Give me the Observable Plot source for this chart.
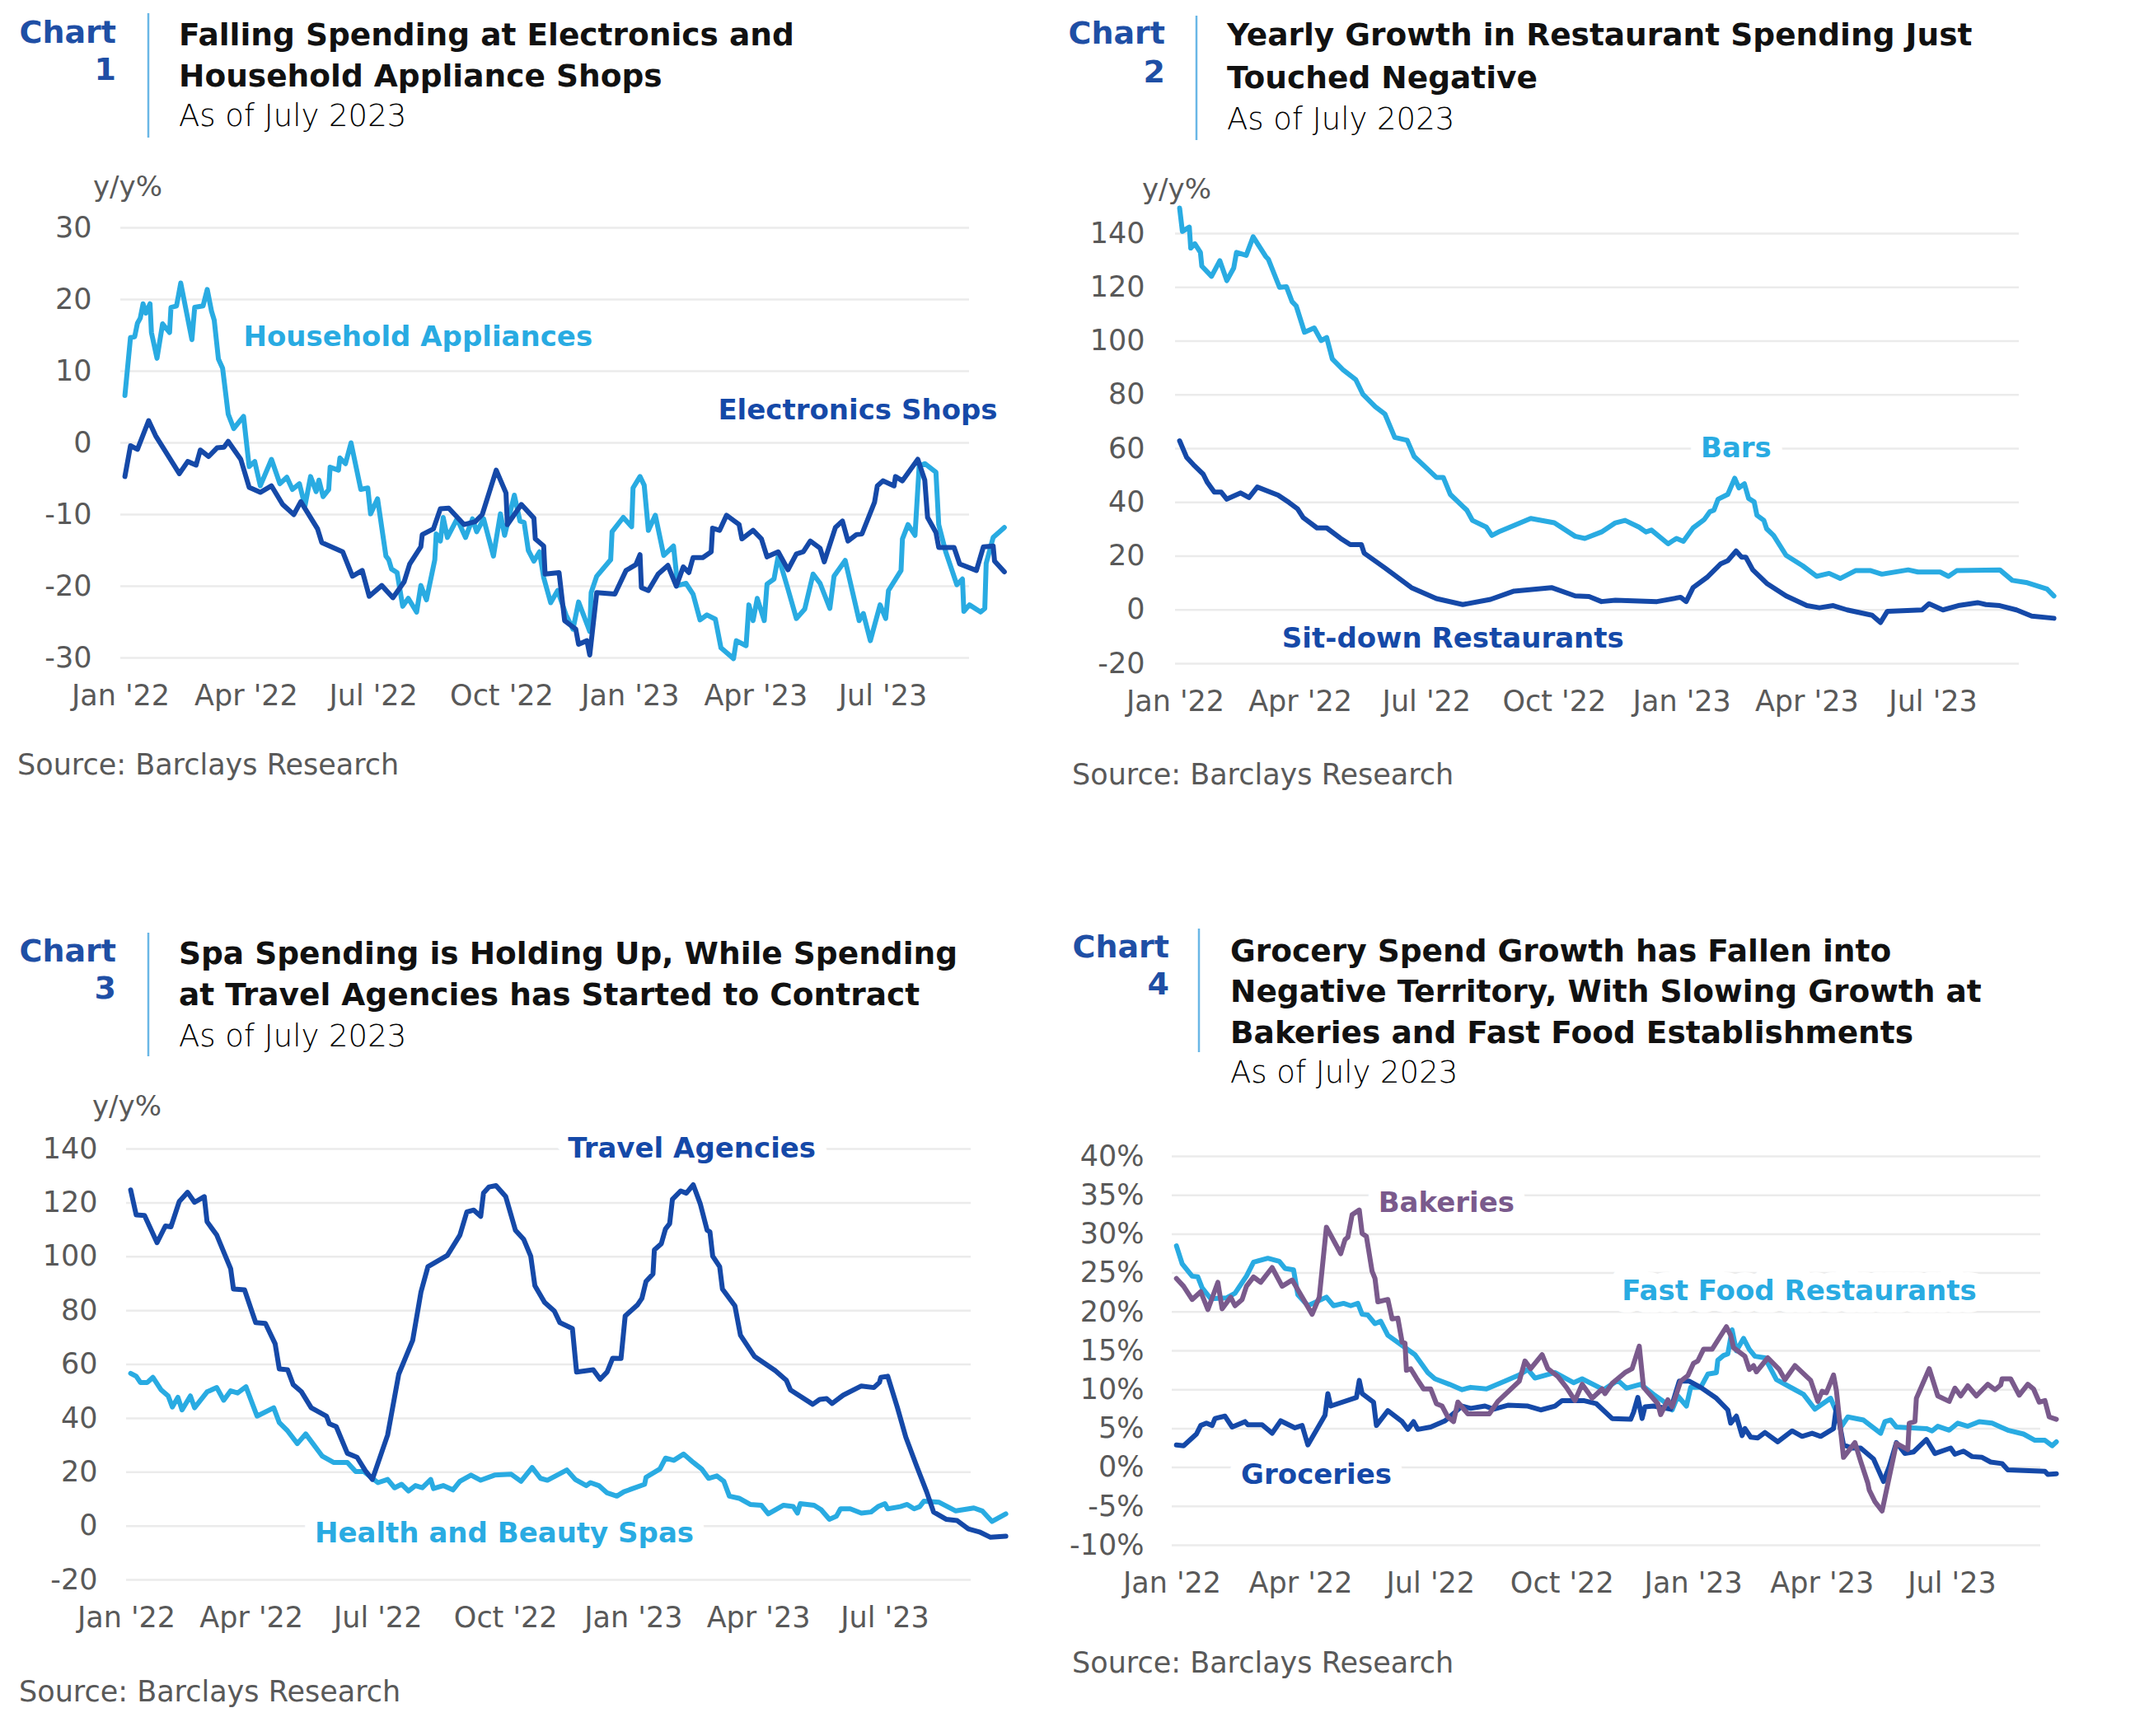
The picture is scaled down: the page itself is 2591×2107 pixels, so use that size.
<!DOCTYPE html>
<html><head><meta charset="utf-8">
<script src="https://cdn.jsdelivr.net/npm/d3@7"></script>
<script src="https://cdn.jsdelivr.net/npm/@observablehq/plot@0.6"></script>
<style>
html,body{margin:0;padding:0;background:#fff;}
#page{position:relative;width:2591px;height:2107px;overflow:hidden;background:#fff;}
</style></head><body><div id="page"></div>
<script>
// ---------- DATA (day offset from 2022-01-01, y/y %) ----------
const tickDates = ["2022-01-01","2022-04-01","2022-07-01","2022-10-01","2023-01-01","2023-04-01","2023-07-01"];
const tickLabels = ["Jan '22","Apr '22","Jul '22","Oct '22","Jan '23","Apr '23","Jul '23"];
const ticksC1 = [-30,-20,-10,0,10,20,30];
const ticksC23 = [-20,0,20,40,60,80,100,120,140];
const ticksC4 = [-10,-5,0,5,10,15,20,25,30,35,40];

const c1Appliances = [[3,6.6],[7,14.7],[10,14.8],[12,16.7],[14,17.4],[16,19.4],[18,18.1],[21,19.4],[22,15.4],[26,11.8],[30,16.6],[35,15.4],[36,18.9],[40,19.1],[43,22.3],[51,14.4],[53,18.9],[59,19.1],[62,21.4],[65,18.4],[67,17.1],[70,11.7],[73,10.4],[77,4.0],[81,2.0],[88,3.7],[92,-3.3],[96,-2.6],[100,-6.0],[108,-2.3],[114,-5.7],[119,-4.8],[123,-6.5],[128,-5.7],[132,-8.8],[136,-4.7],[140,-6.8],[142,-5.2],[145,-7.5],[149,-6.5],[150,-3.4],[156,-3.8],[157,-2.1],[161,-2.9],[165,0.0],[172,-6.5],[177,-6.3],[179,-9.9],[184,-7.8],[190,-15.8],[192,-16.3],[194,-17.6],[198,-18.1],[202,-22.8],[206,-21.7],[212,-23.6],[215,-19.9],[219,-21.9],[225,-16.3],[226,-12.7],[229,-13.7],[231,-10.4],[234,-13.2],[241,-10.6],[247,-13.2],[252,-10.6],[255,-12.4],[260,-10.6],[267,-15.8],[272,-9.9],[275,-12.9],[282,-7.3],[286,-10.9],[289,-11.1],[292,-15.0],[296,-16.5],[300,-15.2],[303,-18.8],[308,-22.3],[313,-20.6],[319,-24.0],[324,-26.0],[328,-22.2],[336,-26.3],[337,-20.9],[341,-18.6],[351,-16.3],[352,-12.4],[360,-10.4],[366,-11.7],[367,-6.3],[372,-4.7],[375,-5.9],[378,-12.2],[383,-10.1],[389,-15.7],[396,-14.4],[399,-19.9],[405,-19.6],[410,-21.1],[415,-24.7],[420,-24.0],[426,-24.6],[430,-28.6],[439,-30.1],[441,-27.6],[448,-28.3],[450,-22.6],[453,-24.8],[456,-21.7],[461,-24.8],[463,-19.7],[468,-19.0],[471,-15.8],[478,-20.4],[484,-24.5],[490,-23.2],[496,-18.3],[501,-19.6],[508,-23.1],[511,-18.6],[519,-16.4],[529,-24.8],[532,-23.8],[537,-27.6],[544,-22.6],[548,-24.5],[550,-20.6],[559,-17.8],[560,-13.4],[564,-11.4],[569,-12.9],[572,-3.2],[576,-2.9],[584,-4.1],[586,-11.4],[591,-15.2],[599,-19.8],[603,-19.0],[604,-23.5],[608,-22.6],[616,-23.6],[619,-23.1],[620,-16.8],[625,-13.2],[633,-11.8]];
const c1Electronics = [[3,-4.7],[7,-0.4],[12,-0.9],[20,3.1],[25,1.0],[42,-4.3],[48,-2.6],[54,-3.1],[57,-1.0],[63,-1.9],[69,-0.7],[74,-0.6],[77,0.2],[86,-2.3],[92,-6.2],[100,-6.9],[108,-6.0],[116,-8.6],[124,-10.0],[129,-8.2],[141,-12.0],[144,-13.9],[159,-15.2],[166,-18.6],[173,-17.8],[178,-21.4],[187,-19.9],[195,-21.6],[203,-19.4],[207,-16.9],[215,-14.5],[216,-12.8],[224,-12.0],[229,-9.2],[235,-9.1],[246,-11.4],[254,-11.0],[259,-10.0],[269,-3.8],[276,-7.0],[277,-11.4],[287,-8.6],[296,-10.5],[297,-13.4],[303,-14.4],[304,-18.3],[314,-18.1],[318,-24.8],[326,-26.0],[328,-28.1],[334,-27.6],[336,-29.6],[341,-20.9],[354,-21.1],[362,-17.8],[369,-17.0],[372,-15.6],[373,-20.2],[378,-20.6],[385,-18.3],[392,-17.1],[398,-20.0],[403,-17.3],[407,-18.1],[410,-16.0],[417,-16.0],[423,-15.2],[424,-11.9],[429,-12.2],[434,-10.1],[443,-11.4],[445,-13.4],[453,-12.2],[459,-13.4],[463,-15.9],[471,-15.2],[478,-17.7],[484,-15.5],[489,-15.2],[494,-13.7],[501,-14.7],[504,-16.6],[512,-11.8],[517,-10.9],[521,-13.7],[527,-12.8],[531,-12.7],[540,-8.3],[542,-6.0],[546,-5.3],[554,-6.0],[555,-4.7],[560,-5.3],[571,-2.3],[576,-5.2],[578,-10.4],[584,-12.5],[586,-14.6],[597,-14.6],[601,-16.9],[613,-17.8],[618,-14.5],[625,-14.4],[626,-16.5],[633,-18.0]];

const c2Bars = [[3,149.5],[5,140.8],[10,142.4],[11,134.6],[14,136.2],[18,133.0],[19,127.9],[26,124.1],[32,129.9],[37,122.5],[42,127.2],[44,133.0],[51,131.9],[56,138.8],[65,131.5],[67,130.4],[75,120.0],[80,120.2],[84,114.7],[87,113.1],[93,103.3],[100,104.9],[105,100.2],[109,101.3],[113,93.4],[121,89.2],[130,85.6],[135,80.3],[144,75.6],[151,72.8],[158,64.2],[167,63.1],[172,57.1],[180,53.2],[188,49.3],[193,49.3],[198,43.0],[210,37.1],[214,33.3],[224,30.8],[228,27.7],[234,29.3],[256,34.0],[273,32.4],[288,27.4],[295,26.6],[307,29.0],[317,32.4],[324,33.3],[334,30.8],[339,29.0],[343,29.7],[355,24.6],[361,26.6],[366,25.5],[373,30.5],[381,33.6],[385,36.5],[388,37.1],[391,41.2],[398,43.0],[403,49.0],[406,45.4],[410,46.9],[413,41.5],[417,40.2],[419,35.2],[424,33.3],[426,30.2],[431,27.7],[440,20.3],[452,16.4],[462,12.5],[471,13.6],[479,11.7],[490,14.6],[501,14.6],[509,13.3],[528,14.9],[535,14.1],[551,14.1],[557,12.5],[563,14.6],[594,14.9],[603,11.0],[613,10.2],[628,7.8],[633,5.2]];
const c2SitDown = [[3,62.9],[8,56.8],[13,54.0],[20,50.5],[23,47.4],[28,43.8],[33,43.8],[37,41.2],[47,43.5],[53,41.8],[59,45.7],[74,42.7],[82,39.9],[88,37.6],[92,34.4],[102,30.5],[109,30.5],[119,26.6],[126,24.3],[134,24.3],[136,21.1],[151,15.6],[170,8.3],[188,4.2],[207,2.0],[227,3.9],[244,7.0],[271,8.3],[288,5.2],[298,5.0],[307,3.1],[317,3.6],[347,3.1],[364,4.7],[368,3.1],[373,8.3],[383,12.1],[393,17.2],[398,18.3],[404,21.9],[408,19.6],[411,19.6],[416,14.9],[426,9.9],[440,5.2],[455,1.6],[464,0.8],[474,1.6],[484,0.0],[502,-2.0],[508,-4.7],[513,-0.5],[538,0.0],[543,2.3],[553,0.0],[564,1.6],[578,2.7],[584,2.0],[594,1.6],[606,0.0],[617,-2.3],[633,-3.1]];

const c3Travel = [[3,124.8],[7,115.5],[13,115.3],[22,105.2],[28,111.4],[32,111.1],[38,120.5],[44,123.9],[49,120.2],[56,122.3],[58,113.0],[65,108.0],[75,95.5],[77,88.0],[85,87.7],[93,75.5],[100,75.2],[107,67.7],[110,58.3],[116,58.0],[120,52.5],[126,49.8],[133,43.9],[144,40.8],[146,38.0],[151,36.9],[159,27.0],[166,25.5],[172,20.5],[177,17.3],[188,33.8],[196,56.4],[206,68.9],[212,86.9],[217,96.3],[231,100.5],[240,108.0],[245,116.6],[250,117.3],[255,115.0],[257,123.6],[261,125.9],[266,126.4],[273,122.3],[280,109.8],[286,106.4],[291,100.2],[294,89.2],[301,83.0],[308,79.8],[312,75.5],[321,73.3],[324,57.2],[336,58.0],[341,54.5],[346,57.2],[350,62.3],[356,62.2],[359,78.0],[368,82.2],[371,84.5],[374,90.8],[379,93.6],[380,102.5],[385,104.8],[388,110.3],[391,112.3],[393,121.3],[399,124.4],[403,123.6],[408,126.7],[413,119.7],[418,109.8],[420,109.2],[422,100.2],[427,96.3],[429,88.0],[438,81.7],[442,70.8],[452,63.0],[467,57.7],[475,54.1],[478,50.5],[494,45.2],[499,47.0],[504,47.3],[508,45.5],[516,48.6],[529,52.0],[538,51.4],[542,53.3],[543,55.2],[548,55.6],[555,43.9],[561,33.0],[569,22.0],[576,12.7],[581,5.2],[590,2.5],[598,2.0],[606,-1.1],[614,-2.2],[622,-4.2],[633,-3.8]];
const c3Spa = [[3,56.7],[7,55.6],[10,53.3],[15,53.3],[19,55.2],[25,50.5],[30,48.3],[33,44.2],[37,47.8],[40,43.1],[46,48.3],[49,43.9],[58,49.8],[65,51.4],[70,46.7],[75,50.2],[80,49.4],[86,51.7],[94,40.8],[106,43.9],[110,38.4],[116,35.3],[123,30.6],[129,34.2],[141,25.9],[149,23.6],[159,23.6],[165,20.2],[171,20.2],[181,16.1],[188,17.3],[193,14.2],[198,15.5],[203,13.0],[208,15.0],[213,14.2],[219,17.3],[221,13.9],[228,15.0],[235,13.4],[240,16.6],[248,18.9],[255,17.0],[265,18.9],[277,19.2],[284,16.6],[292,21.7],[298,17.7],[303,17.0],[317,20.8],[323,17.3],[331,15.0],[334,16.1],[340,15.0],[346,12.3],[353,11.1],[358,12.7],[373,15.5],[374,18.1],[384,21.2],[388,25.2],[394,24.4],[401,26.7],[408,23.6],[414,21.2],[419,17.7],[425,18.6],[430,16.6],[434,11.1],[441,10.3],[449,8.0],[457,7.7],[462,4.5],[473,7.7],[480,7.2],[483,4.8],[485,8.3],[495,7.7],[500,6.1],[506,2.5],[511,3.6],[514,6.4],[521,6.4],[529,4.8],[536,5.2],[541,7.2],[546,8.3],[548,6.4],[557,7.2],[562,8.0],[567,6.4],[571,7.2],[574,9.2],[585,8.8],[597,5.6],[610,6.7],[616,5.6],[623,1.7],[633,4.5]];

const c4Groceries = [[3,2.9],[8,2.8],[17,4.3],[20,5.4],[24,5.7],[28,5.4],[30,6.3],[37,6.6],[42,5.2],[51,5.9],[53,5.5],[63,5.5],[70,4.4],[76,6.0],[86,5.1],[91,5.4],[95,2.9],[107,6.7],[109,9.5],[111,7.9],[129,9.0],[131,11.2],[133,9.5],[141,8.4],[143,5.4],[151,7.3],[161,5.9],[165,4.9],[169,5.9],[172,4.9],[181,5.2],[191,6.0],[203,7.9],[209,7.6],[219,7.9],[225,7.5],[235,8.0],[249,7.9],[258,7.4],[268,7.9],[273,8.6],[288,8.6],[297,8.2],[308,6.3],[321,6.2],[323,7.1],[326,9.0],[329,6.3],[331,7.8],[337,7.9],[349,7.5],[355,11.1],[362,11.1],[370,10.3],[381,8.9],[389,7.4],[391,5.7],[395,6.6],[399,4.1],[401,5.0],[405,3.9],[410,3.8],[415,4.5],[424,3.3],[434,4.7],[441,4.0],[448,4.4],[454,4.0],[463,5.0],[465,7.8],[470,2.9],[476,2.5],[482,2.5],[491,1.1],[498,-1.8],[502,0.1],[507,3.2],[513,1.8],[519,2.0],[528,3.6],[534,1.8],[545,2.5],[548,1.7],[554,2.1],[560,1.4],[567,1.3],[573,0.7],[581,0.5],[585,-0.3],[611,-0.5],[613,-0.9],[619,-0.8]];
const c4FastFood = [[3,28.5],[7,26.2],[14,24.6],[18,24.5],[21,23.1],[27,21.7],[38,21.8],[44,22.4],[52,24.6],[57,26.4],[67,26.9],[75,26.5],[79,25.6],[85,25.4],[88,22.2],[95,20.8],[108,21.9],[113,20.8],[120,21.1],[125,20.8],[130,21.1],[133,19.7],[137,19.6],[142,18.5],[146,18.8],[151,17.0],[170,14.5],[179,12.2],[184,11.4],[194,10.7],[203,10.0],[209,10.3],[220,10.1],[233,11.1],[243,11.9],[249,12.6],[254,11.5],[268,12.2],[281,10.9],[287,11.4],[302,10.0],[312,11.2],[318,10.2],[328,10.7],[337,9.4],[344,8.5],[350,7.4],[354,9.2],[360,7.9],[363,10.3],[370,10.3],[375,12.0],[381,12.2],[382,13.8],[386,14.4],[389,14.6],[392,17.7],[395,15.0],[400,16.6],[404,15.2],[408,14.3],[415,14.1],[423,11.3],[435,10.1],[442,9.4],[450,7.5],[461,8.9],[469,5.4],[473,6.5],[484,6.1],[496,4.4],[499,5.9],[503,6.1],[507,5.2],[528,5.0],[532,4.7],[536,5.3],[544,4.8],[550,5.7],[557,5.3],[565,5.9],[574,5.7],[580,5.2],[585,4.8],[596,4.3],[604,3.5],[611,3.5],[616,2.8],[619,3.3]];
const c4Bakeries = [[3,24.3],[8,23.3],[14,21.6],[20,22.6],[25,20.3],[32,23.8],[35,20.4],[41,21.9],[44,20.8],[49,21.6],[52,23.3],[57,24.5],[62,23.8],[70,25.7],[77,23.3],[84,24.1],[98,19.7],[103,21.9],[108,30.9],[118,27.5],[121,29.3],[123,29.6],[126,32.5],[131,33.1],[133,30.1],[136,29.7],[140,25.2],[142,24.3],[144,21.3],[151,21.6],[154,19.1],[158,19.2],[161,16.1],[163,16.0],[164,12.5],[167,12.7],[171,11.5],[176,10.1],[181,10.1],[185,8.2],[189,7.9],[193,6.5],[197,5.9],[200,8.4],[207,6.9],[222,6.9],[228,8.5],[243,11.1],[247,13.7],[251,12.7],[259,14.5],[263,12.7],[270,11.7],[276,10.3],[282,8.6],[287,10.7],[294,8.9],[301,10.1],[303,9.5],[308,10.8],[317,12.2],[322,12.7],[327,15.6],[330,10.3],[340,8.2],[342,6.8],[347,8.7],[350,7.8],[356,11.1],[361,11.8],[365,13.4],[368,13.7],[372,15.2],[378,15.2],[388,18.1],[391,17.0],[393,15.4],[401,14.3],[404,12.6],[407,13.1],[409,12.3],[417,14.1],[425,12.6],[429,11.3],[436,13.1],[447,11.2],[452,8.5],[455,9.8],[458,9.6],[463,11.9],[465,9.9],[470,1.3],[478,3.2],[482,0.8],[487,-2.0],[488,-2.9],[492,-4.4],[497,-5.6],[507,3.1],[515,2.3],[516,5.7],[520,5.9],[521,8.9],[530,12.7],[536,9.2],[544,8.5],[548,10.2],[552,9.2],[557,10.5],[563,9.2],[571,10.7],[576,10.0],[580,10.6],[581,11.4],[587,11.4],[593,9.3],[599,10.7],[603,10.1],[607,8.4],[611,8.6],[614,6.5],[619,6.2]];

// ---------- TEXT ----------
const headers = [
  {num:"1", title:["Falling Spending at Electronics and","Household Appliance Shops"]},
  {num:"2", title:["Yearly Growth in Restaurant Spending Just","Touched Negative"]},
  {num:"3", title:["Spa Spending is Holding Up, While Spending","at Travel Agencies has Started to Contract"]},
  {num:"4", title:["Grocery Spend Growth has Fallen into","Negative Territory, With Slowing Growth at","Bakeries and Fast Food Establishments"]}
];
const subtitle = "As of July 2023";
const sourceText = "Source: Barclays Research";
const unitLabel = "y/y%";

// ---------- STYLE / LAYOUT ----------
const FONT = '"DejaVu Sans", sans-serif';
const DARK = "#1549a8", LIGHT = "#29abe2", PURPLE = "#7a5a8c", HEAD = "#1f4fa5", GRAY = "#595959";
const gridStart = new Date(tickDates[0]), gridEnd = new Date("2023-09-01");
const toDate = d => new Date(Date.UTC(2022, 0, 1) + d * 864e5);
const tickObjs = tickDates.map(s => new Date(s));
const fmtX = d => tickLabels[tickObjs.findIndex(t => +t === +d)];

const charts = [
  {left:0, top:200, width:1295, height:700, mL:146, mR:119, mT:76, mB:102, pad:35, ticks:ticksC1, fmt:d=>String(d),
   series:[[c1Appliances, LIGHT],[c1Electronics, DARK]],
   labels:[{text:"Household Appliances", day:213, value:14.8, color:LIGHT},{text:"Electronics Shops", day:528, value:4.5, color:DARK}]},
  {left:1295, top:200, width:1296, height:700, mL:131, mR:141, mT:83, mB:95, pad:37, ticks:ticksC23, fmt:d=>String(d),
   series:[[c2Bars, LIGHT],[c2SitDown, DARK]],
   labels:[{text:"Bars", day:404, value:60, color:LIGHT, halo:true},{text:"Sit-down Restaurants", day:200, value:-10.6, color:DARK}]},
  {left:0, top:1310, width:1295, height:700, mL:153, mR:117, mT:84, mB:93, pad:35, ticks:ticksC23, fmt:d=>String(d),
   series:[[c3Spa, LIGHT],[c3Travel, DARK]],
   labels:[{text:"Travel Agencies", day:407, value:140, color:DARK, halo:true},{text:"Health and Beauty Spas", day:272, value:-2.9, color:LIGHT, halo:true}]},
  {left:1295, top:1340, width:1296, height:650, mL:127, mR:115, mT:63, mB:115, pad:34, ticks:ticksC4, fmt:d=>d+"%",
   series:[[c4FastFood, LIGHT],[c4Groceries, DARK],[c4Bakeries, PURPLE]],
   labels:[{text:"Bakeries", day:192, value:34, color:PURPLE, halo:true},{text:"Groceries", day:101, value:-1, color:DARK, halo:true},{text:"Fast Food Restaurants", day:439, value:22.7, color:LIGHT, halo:true}]}
];

const page = document.getElementById("page");
charts.forEach(c => {
  const yMin = c.ticks[0], yMax = c.ticks[c.ticks.length - 1];
  const svg = Plot.plot({
    width: c.width, height: c.height,
    marginLeft: c.mL, marginRight: c.mR, marginTop: c.mT, marginBottom: c.mB,
    style: {fontFamily: FONT, fontSize: "35px", color: GRAY, background: "transparent", overflow: "visible"},
    x: {type: "utc", domain: [gridStart, gridEnd]},
    y: {domain: [yMin, yMax]},
    marks: [
      Plot.ruleY(c.ticks, {y: d => d, x1: () => gridStart, x2: () => gridEnd, stroke: "#ebebeb", strokeWidth: 2.5}),
      Plot.axisY({ticks: c.ticks, tickSize: 0, tickPadding: c.pad, tickFormat: c.fmt, label: null, fontSize: 35}),
      Plot.axisX({ticks: tickObjs, tickSize: 0, tickPadding: 33, tickFormat: fmtX, label: null, fontSize: 35}),
      ...c.series.map(([data, color]) => Plot.line(data, {x: d => toDate(d[0]), y: d => d[1], stroke: color, strokeWidth: 6, strokeLinejoin: "round", strokeLinecap: "round"})),
      ...c.labels.map(l => Plot.text([l], {x: d => toDate(d.day), y: d => d.value, text: d => d.text, fill: l.color, fontSize: 34, fontWeight: "bold", textAnchor: "middle",
        stroke: l.halo ? "white" : null, strokeWidth: l.halo ? 30 : 0, paintOrder: "stroke"}))
    ]
  });
  svg.style.position = "absolute";
  svg.style.left = c.left + "px";
  svg.style.top = c.top + "px";
  page.appendChild(svg);
});

// ---------- HEADERS, UNIT LABELS, SOURCES ----------
const ov = d3.select(page).append("svg").attr("width", 2591).attr("height", 2107)
  .style("position", "absolute").style("left", "0px").style("top", "0px").style("pointer-events", "none")
  .style("font-family", FONT);
const headPos = [
  {chartR:141, chartY:52, numY:97, lx:180, ly1:16, ly2:167, tx:217, ty:[55,105], sy:153},
  {chartR:1414, chartY:53, numY:100, lx:1452, ly1:19, ly2:170, tx:1489, ty:[55,107], sy:157},
  {chartR:141, chartY:1167, numY:1212, lx:180, ly1:1132, ly2:1282, tx:217, ty:[1170,1220], sy:1270},
  {chartR:1419, chartY:1162, numY:1207, lx:1455, ly1:1127, ly2:1277, tx:1493, ty:[1167,1216,1266], sy:1314}
];
headers.forEach((h, i) => {
  const p = headPos[i];
  ov.append("text").attr("x", p.chartR).attr("y", p.chartY).attr("text-anchor", "end")
    .attr("font-size", 38).attr("font-weight", "bold").attr("fill", HEAD).text("Chart");
  ov.append("text").attr("x", p.chartR).attr("y", p.numY).attr("text-anchor", "end")
    .attr("font-size", 38).attr("font-weight", "bold").attr("fill", HEAD).text(h.num);
  ov.append("line").attr("x1", p.lx).attr("x2", p.lx).attr("y1", p.ly1).attr("y2", p.ly2)
    .attr("stroke", "#6ab7e6").attr("stroke-width", 2.5);
  h.title.forEach((t, j) => ov.append("text").attr("x", p.tx).attr("y", p.ty[j])
    .attr("font-size", 37.5).attr("font-weight", "bold").attr("fill", "#111").text(t));
  ov.append("text").attr("x", p.tx).attr("y", p.sy).attr("font-size", 37).attr("font-weight", 300)
    .attr("fill", "#000").text(subtitle);
});
[{x:113, y:238}, {x:1386, y:241}, {x:112, y:1354}].forEach(u =>
  ov.append("text").attr("x", u.x).attr("y", u.y).attr("font-size", 34).attr("fill", GRAY).text(unitLabel));
[{x:21, y:940}, {x:1301, y:952}, {x:23, y:2065}, {x:1301, y:2030}].forEach(s =>
  ov.append("text").attr("x", s.x).attr("y", s.y).attr("font-size", 35).attr("fill", GRAY).text(sourceText));
</script></body></html>
